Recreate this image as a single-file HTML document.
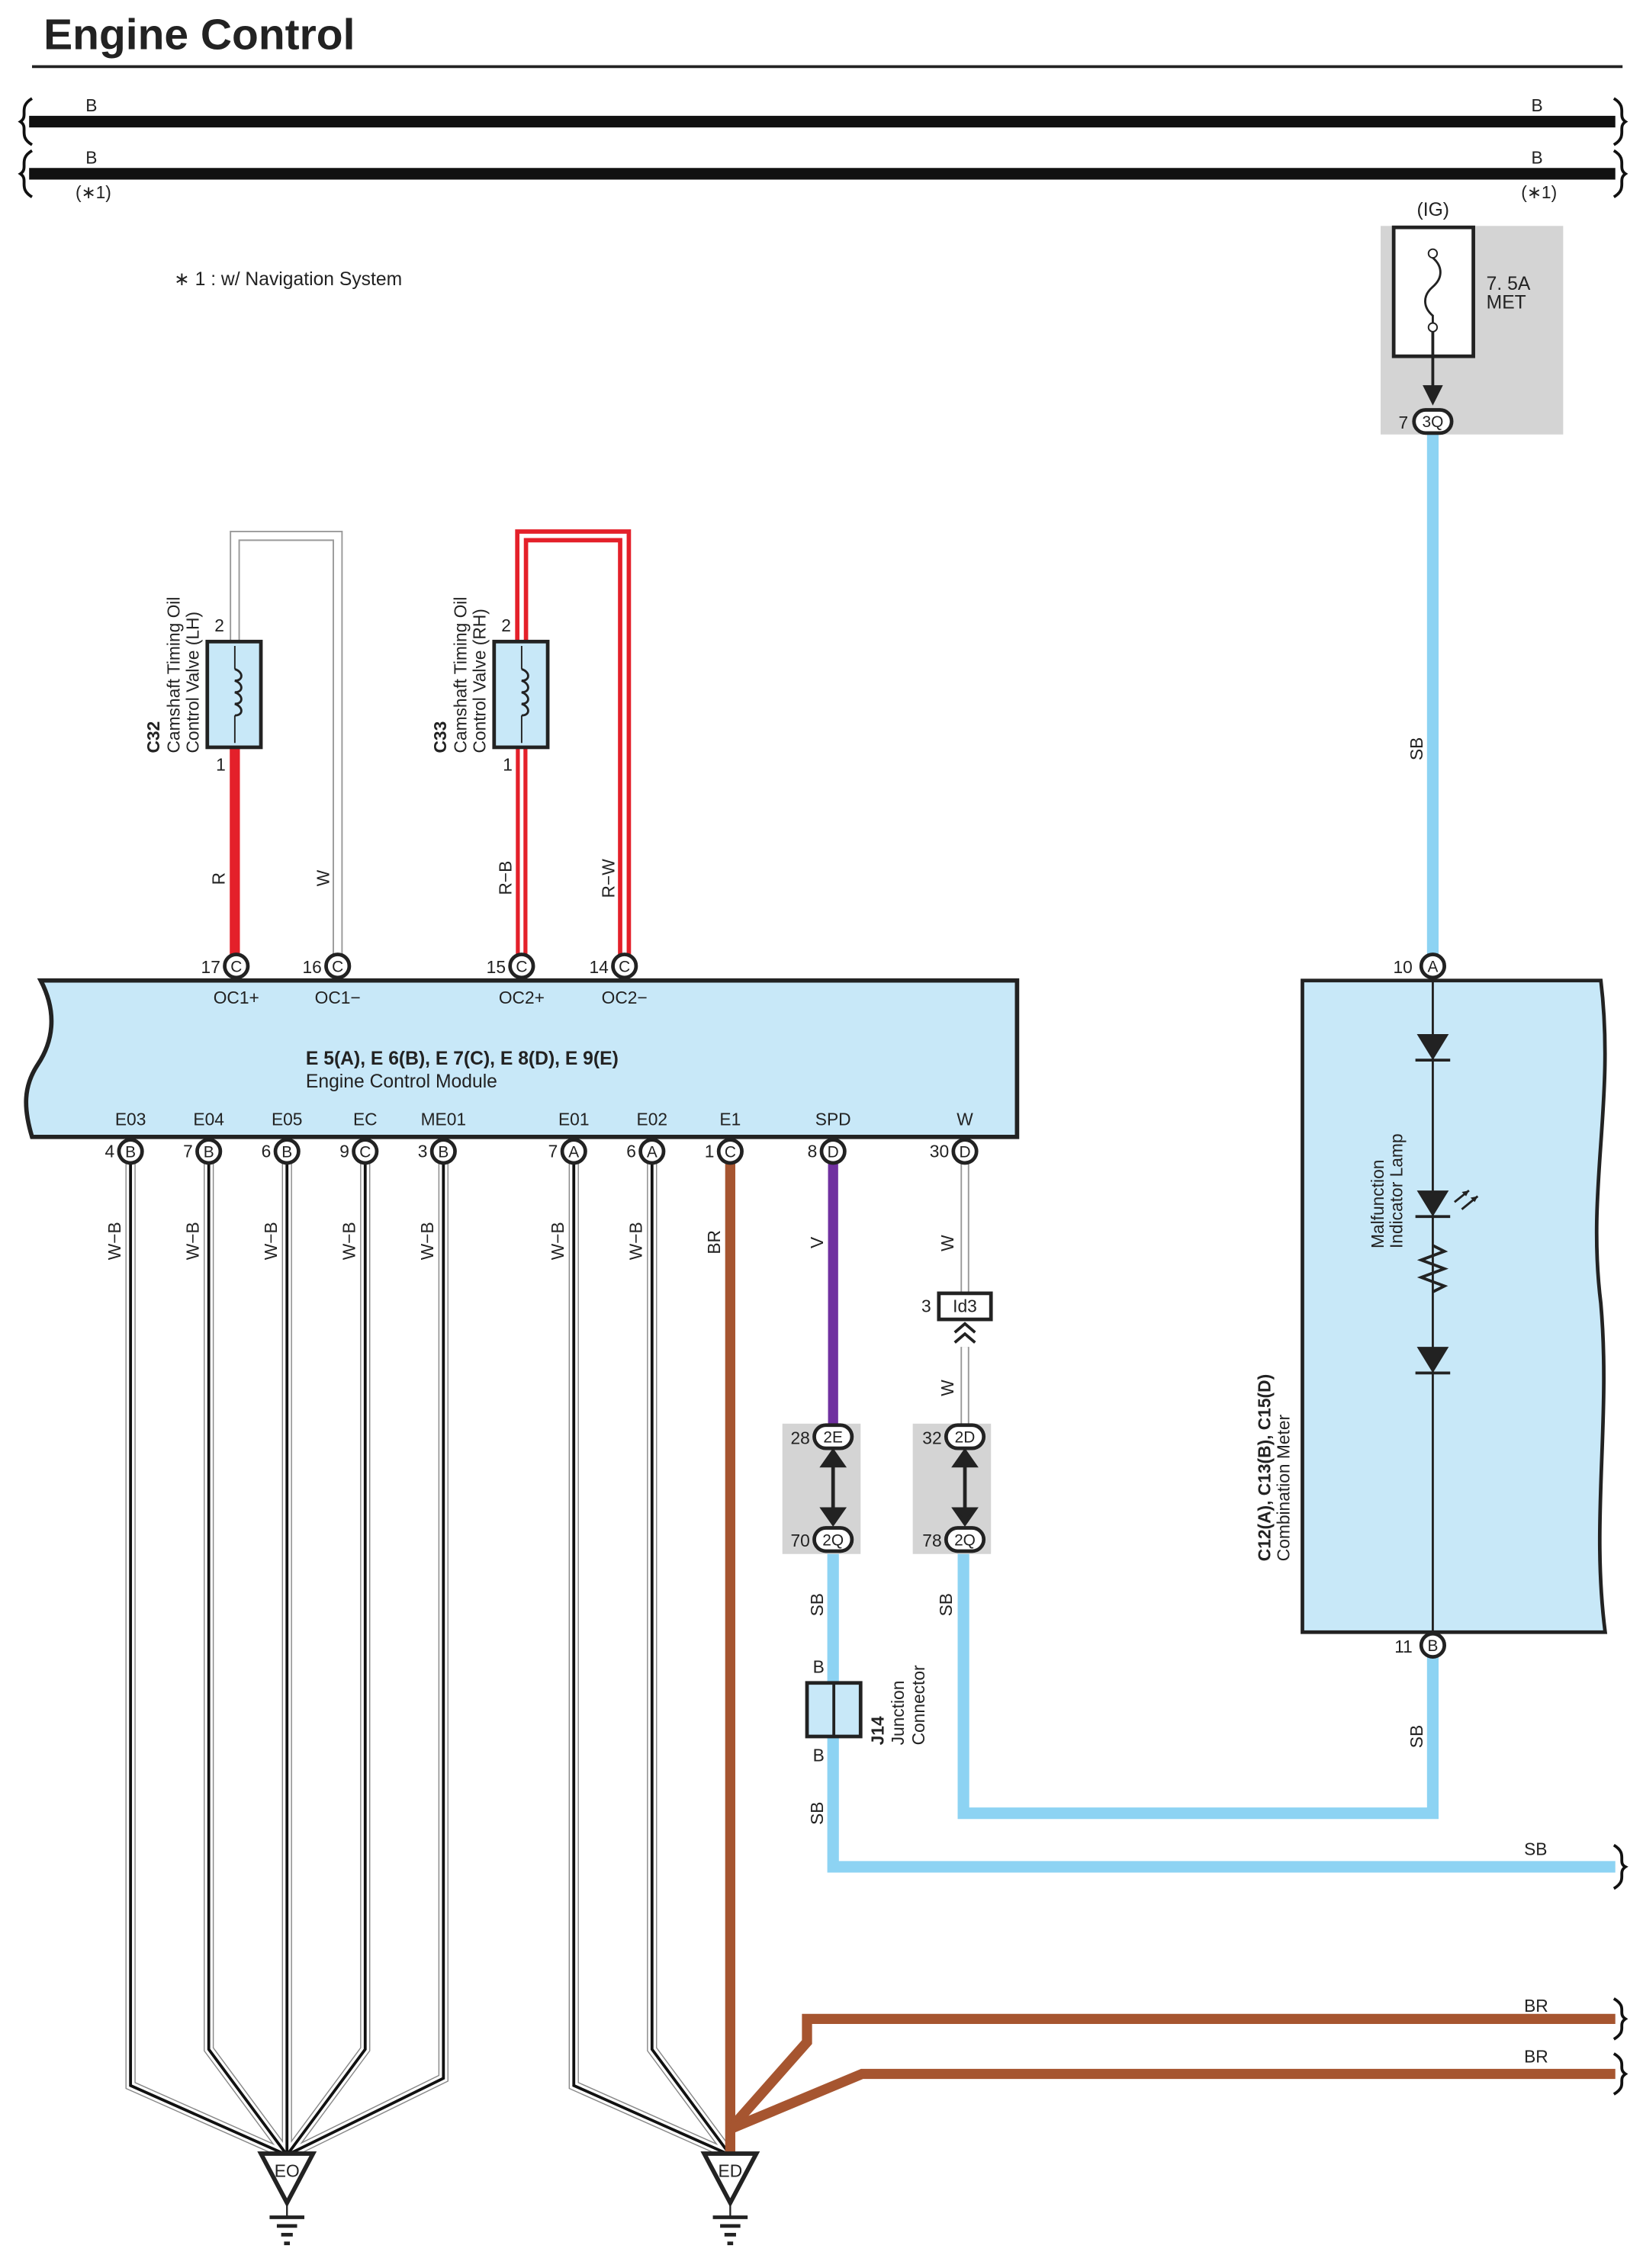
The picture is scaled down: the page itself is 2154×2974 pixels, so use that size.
<!DOCTYPE html>
<html><head><meta charset="utf-8"><style>
html,body{margin:0;padding:0;background:#fff}
svg{display:block}
text{font-family:"Liberation Sans",sans-serif;fill:#222}
</style></head><body>
<svg width="2154" height="2974" viewBox="0 0 1134 1566" xmlns="http://www.w3.org/2000/svg">
<defs>
<g id="gnd"><path d="M-18,0 L18,0 L0,34 Z" fill="#fff" stroke="#222" stroke-width="3"/><line x1="0" y1="34" x2="0" y2="44" stroke="#222" stroke-width="1.2"/><line x1="-12" y1="44" x2="12" y2="44" stroke="#222" stroke-width="2.5"/><line x1="-7" y1="50" x2="7" y2="50" stroke="#222" stroke-width="2.5"/><line x1="-4" y1="56" x2="4" y2="56" stroke="#222" stroke-width="2.5"/><line x1="-2" y1="62" x2="2" y2="62" stroke="#222" stroke-width="2.5"/></g>
</defs>
<text x="30" y="34" font-size="30" font-weight="bold" fill="#111">Engine Control</text>
<line x1="22" y1="46" x2="1120" y2="46" stroke="#222" stroke-width="2"/>
<!-- bus -->
<line x1="20" y1="84" x2="1115" y2="84" stroke="#111" stroke-width="8"/>
<line x1="20" y1="120" x2="1115" y2="120" stroke="#111" stroke-width="8"/>
<path d="M22,68 C12,74 20,80 14,84 C20,88 12,94 22,100 M22,104 C12,110 20,116 14,120 C20,124 12,130 22,136" fill="none" stroke="#111" stroke-width="2"/>
<path d="M1114,68 C1124,74 1116,80 1122,84 C1116,88 1124,94 1114,100 M1114,104 C1124,110 1116,116 1122,120 C1116,124 1124,130 1114,136" fill="none" stroke="#111" stroke-width="2"/>
<g font-size="12"><text x="59" y="77">B</text><text x="1057" y="77">B</text><text x="59" y="113">B</text><text x="1057" y="113">B</text>
<text x="52" y="137">(∗1)</text><text x="1050" y="137">(∗1)</text></g>
<text x="120" y="197" font-size="13">∗ 1 : w/ Navigation System</text>
<!-- fuse -->
<rect x="953" y="156" width="126" height="144" fill="#d4d4d4"/>
<rect x="962" y="157" width="55" height="89" fill="#fff" stroke="#222" stroke-width="2.5"/>
<text x="978" y="149" font-size="13">(IG)</text>
<path d="M989,172 L989,178 C996,184 996,192 989,198 C982,204 982,212 989,218 L989,226" fill="none" stroke="#222" stroke-width="1.5"/>
<circle cx="989" cy="175" r="3" fill="#fff" stroke="#222"/><circle cx="989" cy="226" r="3" fill="#fff" stroke="#222"/>
<line x1="989" y1="229" x2="989" y2="270" stroke="#222" stroke-width="2"/>
<path d="M982,266 L996,266 L989,280 Z" fill="#222"/>
<text x="1026" y="200" font-size="13">7. 5A</text><text x="1026" y="213" font-size="13">MET</text>
<!-- SB wires -->
<g fill="none" stroke="#8dd3f3" stroke-width="8">
<path d="M989,300 L989,667"/>
<path d="M989,1136 L989,1252 L665,1252 L665,1063"/>
<path d="M575,1063 L575,1289 L1115,1289"/>
</g>
<path d="M1114,1274 C1124,1280 1116,1286 1122,1289 C1116,1293 1124,1298 1114,1304" fill="none" stroke="#111" stroke-width="2"/>
<g font-size="12">
<text transform="translate(982,525) rotate(-90)">SB</text>
<text transform="translate(982,1207) rotate(-90)">SB</text>
<text transform="translate(657,1116) rotate(-90)">SB</text>
<text transform="translate(568,1116) rotate(-90)">SB</text>
<text transform="translate(568,1260) rotate(-90)">SB</text>
<text x="1052" y="1281">SB</text>
</g>
<!-- combination meter -->
<path d="M899,677 L1105,677 C1115,760 1095,820 1105,900 C1112,980 1098,1050 1108,1127 L899,1127 Z" fill="#c8e8f8" stroke="#222" stroke-width="2.5"/>
<line x1="989" y1="675" x2="989" y2="1130" stroke="#222" stroke-width="1.5"/>
<g fill="#222">
<path d="M978,714 L1000,714 L989,732 Z"/><line x1="977" y1="732" x2="1001" y2="732" stroke="#222" stroke-width="2"/>
<path d="M978,822 L1000,822 L989,840 Z"/><line x1="977" y1="840" x2="1001" y2="840" stroke="#222" stroke-width="2"/>
<path d="M978,930 L1000,930 L989,948 Z"/><line x1="977" y1="948" x2="1001" y2="948" stroke="#222" stroke-width="2"/>
</g>
<path d="M1004,830 L1014,822 M1009,835 L1020,826" stroke="#222" stroke-width="1.5"/>
<path d="M1014,822 l-5,1 l3,3 Z M1020,826 l-5,1 l3,3 Z" fill="#222"/>
<path d="M989,860 L997,864 L981,870 L997,876 L981,882 L997,888 L989,892" fill="none" stroke="#222" stroke-width="2"/>
<g font-size="12">
<text transform="translate(955,862) rotate(-90)">Malfunction</text>
<text transform="translate(968,862) rotate(-90)">Indicator Lamp</text>
<text transform="translate(877,1078) rotate(-90)" font-weight="bold">C12(A), C13(B), C15(D)</text>
<text transform="translate(890,1078) rotate(-90)">Combination Meter</text>
</g>
<!-- ECM -->
<path d="M28,677 L702,677 L702,785 L22,785 C16,765 16,750 26,735 C36,720 40,700 28,677 Z" fill="#c8e8f8" stroke="#222" stroke-width="3"/>
<text x="211" y="735" font-size="13" font-weight="bold">E 5(A), E 6(B), E 7(C), E 8(D), E 9(E)</text>
<text x="211" y="751" font-size="13">Engine Control Module</text>
<g font-size="12" text-anchor="middle">
<text x="163" y="693">OC1+</text><text x="233" y="693">OC1−</text><text x="360" y="693">OC2+</text><text x="431" y="693">OC2−</text>
<text x="90" y="777">E03</text><text x="144" y="777">E04</text><text x="198" y="777">E05</text><text x="252" y="777">EC</text><text x="306" y="777">ME01</text>
<text x="396" y="777">E01</text><text x="450" y="777">E02</text><text x="504" y="777">E1</text><text x="575" y="777">SPD</text><text x="666" y="777">W</text>
</g>
<!-- C32 / C33 wires -->
<path d="M162,516 L162,660" stroke="#e4202a" stroke-width="7" fill="none"/>
<path d="M162,443 L162,370 L233,370 L233,660" stroke="#999" stroke-width="7" fill="none"/>
<path d="M162,443 L162,370 L233,370 L233,660" stroke="#fff" stroke-width="5" fill="none"/>
<path d="M360,516 L360,660" stroke="#e4202a" stroke-width="8" fill="none"/>
<path d="M360,516 L360,660" stroke="#fff" stroke-width="2.5" fill="none"/>
<path d="M360,443 L360,370 L431,370 L431,660" stroke="#e4202a" stroke-width="9" fill="none"/>
<path d="M360,443 L360,370 L431,370 L431,660" stroke="#fff" stroke-width="3" fill="none"/>
<g>
<rect x="143" y="443" width="37" height="73" fill="#c8e8f8" stroke="#222" stroke-width="2.5"/>
<rect x="341" y="443" width="37" height="73" fill="#c8e8f8" stroke="#222" stroke-width="2.5"/>
<path d="M162,462 c6,2 6,8 0,8 c6,2 6,8 0,8 c6,2 6,8 0,8 c6,2 6,8 0,8" fill="none" stroke="#222" stroke-width="1.5"/>
<path d="M360,462 c6,2 6,8 0,8 c6,2 6,8 0,8 c6,2 6,8 0,8 c6,2 6,8 0,8" fill="none" stroke="#222" stroke-width="1.5"/>
<line x1="162" y1="446" x2="162" y2="462" stroke="#222"/><line x1="162" y1="494" x2="162" y2="513" stroke="#222"/>
<line x1="360" y1="446" x2="360" y2="462" stroke="#222"/><line x1="360" y1="494" x2="360" y2="513" stroke="#222"/>
</g>
<g font-size="12">
<text x="148" y="436">2</text><text x="149" y="532">1</text><text x="346" y="436">2</text><text x="347" y="532">1</text>
<text transform="translate(110,520) rotate(-90)" font-weight="bold">C32</text>
<text transform="translate(124,520) rotate(-90)">Camshaft Timing Oil</text>
<text transform="translate(137,520) rotate(-90)">Control Valve (LH)</text>
<text transform="translate(308,520) rotate(-90)" font-weight="bold">C33</text>
<text transform="translate(322,520) rotate(-90)">Camshaft Timing Oil</text>
<text transform="translate(335,520) rotate(-90)">Control Valve (RH)</text>
<text transform="translate(155,611) rotate(-90)">R</text>
<text transform="translate(227,612) rotate(-90)">W</text>
<text transform="translate(353,618) rotate(-90)">R−B</text>
<text transform="translate(424,620) rotate(-90)">R−W</text>
</g>
<!-- W-B wires -->
<g fill="none">
<g stroke="#888" stroke-width="7">
<path d="M90,795 L90,1440 L198,1488"/><path d="M144,795 L144,1415 L198,1488"/><path d="M198,795 L198,1488"/><path d="M252,795 L252,1415 L198,1488"/><path d="M306,795 L306,1435 L198,1488"/>
<path d="M396,795 L396,1440 L504,1488"/><path d="M450,795 L450,1415 L504,1488"/>
</g>
<g stroke="#fff" stroke-width="5.5">
<path d="M90,795 L90,1440 L198,1488"/><path d="M144,795 L144,1415 L198,1488"/><path d="M198,795 L198,1488"/><path d="M252,795 L252,1415 L198,1488"/><path d="M306,795 L306,1435 L198,1488"/>
<path d="M396,795 L396,1440 L504,1488"/><path d="M450,795 L450,1415 L504,1488"/>
</g>
<g stroke="#111" stroke-width="2">
<path d="M90,795 L90,1440 L198,1488"/><path d="M144,795 L144,1415 L198,1488"/><path d="M198,795 L198,1488"/><path d="M252,795 L252,1415 L198,1488"/><path d="M306,795 L306,1435 L198,1488"/>
<path d="M396,795 L396,1440 L504,1488"/><path d="M450,795 L450,1415 L504,1488"/>
</g>
</g>
<g font-size="12">
<text transform="translate(83,870) rotate(-90)">W−B</text><text transform="translate(137,870) rotate(-90)">W−B</text><text transform="translate(191,870) rotate(-90)">W−B</text><text transform="translate(245,870) rotate(-90)">W−B</text><text transform="translate(299,870) rotate(-90)">W−B</text>
<text transform="translate(389,870) rotate(-90)">W−B</text><text transform="translate(443,870) rotate(-90)">W−B</text>
<text transform="translate(497,866) rotate(-90)">BR</text>
<text transform="translate(568,862) rotate(-90)">V</text>
<text transform="translate(658,864) rotate(-90)">W</text>
<text transform="translate(658,964) rotate(-90)">W</text>
</g>
<!-- BR -->
<g fill="none" stroke="#a65530" stroke-width="7">
<path d="M504,795 L504,1488"/>
<path d="M504,1470 L557,1410 L557,1394 L1115,1394"/>
<path d="M504,1470 L595,1432 L1115,1432"/>
</g>
<path d="M1114,1380 C1124,1386 1116,1390 1122,1394 C1116,1398 1124,1402 1114,1408 M1114,1418 C1124,1424 1116,1428 1122,1432 C1116,1436 1124,1440 1114,1446" fill="none" stroke="#111" stroke-width="2"/>
<text x="1052" y="1389" font-size="12">BR</text><text x="1052" y="1424" font-size="12">BR</text>
<use href="#gnd" x="198" y="1487"/><use href="#gnd" x="504" y="1487"/>
<text x="198" y="1503" font-size="12" text-anchor="middle">EO</text>
<text x="504" y="1503" font-size="12" text-anchor="middle">ED</text>
<!-- SPD -->
<path d="M575,795 L575,985" stroke="#7030a0" stroke-width="7"/>
<rect x="540" y="983" width="54" height="90" fill="#d4d4d4"/>
<rect x="630" y="983" width="54" height="90" fill="#d4d4d4"/>
<g stroke="#222" stroke-width="2.5" fill="#222">
<line x1="575" y1="1006" x2="575" y2="1048"/><path d="M568,1012 L575,1002 L582,1012 Z M568,1042 L575,1052 L582,1042 Z"/>
<line x1="666" y1="1006" x2="666" y2="1048"/><path d="M659,1012 L666,1002 L673,1012 Z M659,1042 L666,1052 L673,1042 Z"/>
</g>
<!-- W -->
<path d="M666,795 L666,893 M666,930 L666,985" stroke="#999" stroke-width="6"/>
<path d="M666,795 L666,893 M666,930 L666,985" stroke="#fff" stroke-width="4"/>
<rect x="648" y="893" width="36" height="18" fill="#fff" stroke="#222" stroke-width="2.5"/>
<text x="666" y="906" font-size="12" text-anchor="middle">Id3</text>
<text x="636" y="906" font-size="12">3</text>
<path d="M659,920 L666,914 L673,920 M659,927 L666,921 L673,927" fill="none" stroke="#222" stroke-width="2"/>
<!-- J14 -->
<rect x="557" y="1162" width="37" height="37" fill="#c8e8f8" stroke="#222" stroke-width="2.5"/>
<line x1="575.5" y1="1162" x2="575.5" y2="1199" stroke="#222" stroke-width="2"/>
<g font-size="12"><text x="561" y="1155">B</text><text x="561" y="1216">B</text>
<text transform="translate(610,1205) rotate(-90)" font-weight="bold">J14</text>
<text transform="translate(624,1205) rotate(-90)">Junction</text>
<text transform="translate(638,1205) rotate(-90)">Connector</text></g>
<!-- connectors -->
<g stroke="#222" stroke-width="2.5" fill="#fff">
<circle cx="163" cy="667" r="8"/><circle cx="233" cy="667" r="8"/><circle cx="360" cy="667" r="8"/><circle cx="431" cy="667" r="8"/>
<circle cx="90" cy="795" r="8"/><circle cx="144" cy="795" r="8"/><circle cx="198" cy="795" r="8"/><circle cx="252" cy="795" r="8"/><circle cx="306" cy="795" r="8"/>
<circle cx="396" cy="795" r="8"/><circle cx="450" cy="795" r="8"/><circle cx="504" cy="795" r="8"/><circle cx="575" cy="795" r="8"/><circle cx="666" cy="795" r="8"/>
<circle cx="989" cy="667" r="8"/><circle cx="989" cy="1136" r="8"/>
<rect x="976" y="283" width="26" height="16" rx="8"/>
<rect x="562" y="984" width="26" height="16" rx="8"/><rect x="562" y="1055" width="26" height="16" rx="8"/>
<rect x="653" y="984" width="26" height="16" rx="8"/><rect x="653" y="1055" width="26" height="16" rx="8"/>
</g>
<g font-size="11" text-anchor="middle">
<text x="163" y="671">C</text><text x="233" y="671">C</text><text x="360" y="671">C</text><text x="431" y="671">C</text>
<text x="90" y="799">B</text><text x="144" y="799">B</text><text x="198" y="799">B</text><text x="252" y="799">C</text><text x="306" y="799">B</text>
<text x="396" y="799">A</text><text x="450" y="799">A</text><text x="504" y="799">C</text><text x="575" y="799">D</text><text x="666" y="799">D</text>
<text x="989" y="671">A</text><text x="989" y="1140">B</text>
<text x="989" y="295">3Q</text><text x="575" y="996">2E</text><text x="575" y="1067">2Q</text><text x="666" y="996">2D</text><text x="666" y="1067">2Q</text>
</g>
<g font-size="12" text-anchor="end">
<text x="152" y="672">17</text><text x="222" y="672">16</text><text x="349" y="672">15</text><text x="420" y="672">14</text>
<text x="79" y="799">4</text><text x="133" y="799">7</text><text x="187" y="799">6</text><text x="241" y="799">9</text><text x="295" y="799">3</text>
<text x="385" y="799">7</text><text x="439" y="799">6</text><text x="493" y="799">1</text><text x="564" y="799">8</text><text x="655" y="799">30</text>
<text x="975" y="672">10</text><text x="975" y="1141">11</text><text x="972" y="296">7</text>
<text x="559" y="997">28</text><text x="559" y="1068">70</text><text x="650" y="997">32</text><text x="650" y="1068">78</text>
</g>
</svg>
</body></html>
